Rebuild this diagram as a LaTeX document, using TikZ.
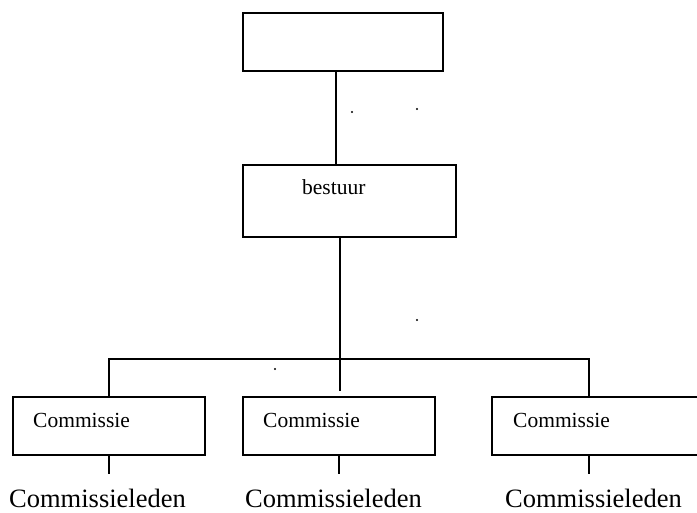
\documentclass[tikz,border=0pt]{standalone}
\usepackage{fontspec}
\setmainfont{Liberation Serif}
\begin{document}
\begin{tikzpicture}[x=1pt,y=-1pt,
  boxstyle/.style={draw=black, line width=1.8pt, rectangle, inner sep=0pt},
  small/.style={anchor=base west, inner sep=0pt, font=\fontsize{21.5}{24}\selectfont},
  big/.style={anchor=base west, inner sep=0pt, font=\fontsize{26.5}{30}\selectfont},
  conn/.style={line width=1.8pt},
  dotmark/.style={fill=black}]
\useasboundingbox (0,0) rectangle (697,513);
\clip (0,0) rectangle (697,513);
% boxes
\node[boxstyle, minimum width=200pt, minimum height=58pt] (top) at (343,42) {};
\node[boxstyle, minimum width=213pt, minimum height=72pt] (bestuur) at (349.5,201) {};
\node[boxstyle, minimum width=192pt, minimum height=58pt] (box1) at (109,426) {};
\node[boxstyle, minimum width=192pt, minimum height=58pt] (box2) at (339,426) {};
\node[boxstyle, minimum width=210pt, minimum height=58pt] (box3) at (597,426) {};
% texts
\node[small] (tb) at (302,195) {bestuur};
\node[small] (t1) at (33,428) {Commissie};
\node[small] (t2) at (263,428) {Commissie};
\node[small] (t3) at (513,428) {Commissie};
\node[big] (l1) at (9,507) {Commissieleden};
\node[big] (l2) at (245,507) {Commissieleden};
\node[big] (l3) at (505,507) {Commissieleden};
% junction coordinates
\coordinate (hl) at (109,359);
\coordinate (hr) at (589,359);
\coordinate (cend) at (340,391);
\coordinate (e1) at (109,474);
\coordinate (e2) at (339,474);
\coordinate (e3) at (589,474);
% connectors
\draw[conn] ([xshift=-7pt]top.south) -- ([xshift=-13.5pt]bestuur.north);
\draw[conn] ([xshift=-9.5pt]bestuur.south) -- (cend);
\draw[conn] (box1.north) -- (hl) -- (hr) -- (box3.north -| hr);
\draw[conn] (box1.south) -- (e1);
\draw[conn] (box2.south) -- (e2);
\draw[conn] (box3.south -| e3) -- (e3);
% stray dots
\fill[dotmark] (352,112) circle (1.1);
\fill[dotmark] (417,109) circle (1.1);
\fill[dotmark] (417,320) circle (1.1);
\fill[dotmark] (275,369) circle (1.1);
\end{tikzpicture}
\end{document}
